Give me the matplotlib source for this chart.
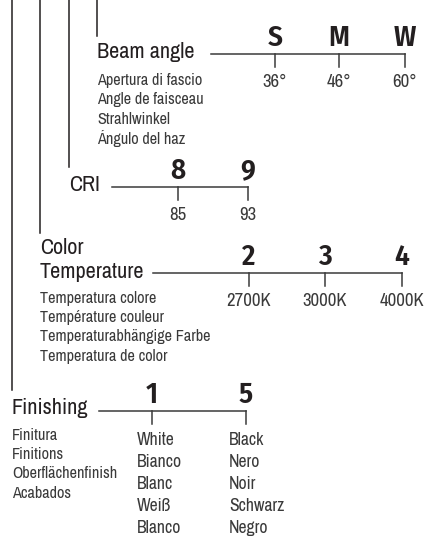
import matplotlib
matplotlib.use("Agg")
import matplotlib.pyplot as plt

plt.rcParams['font.family'] = ['Archivo Narrow', 'DejaVu Sans']
CODE_FONT = ['Fira Sans Condensed', 'DejaVu Sans']

# --- data ---
beam_codes = ["S", "M", "W"]
beam_values = ["36°", "46°", "60°"]
beam_names = ["Apertura di fascio", "Angle de faisceau", "Strahlwinkel", "Ángulo del haz"]

cri_codes = ["8", "9"]
cri_values = ["85", "93"]

cct_codes = ["2", "3", "4"]
cct_values = ["2700K", "3000K", "4000K"]
cct_names = ["Temperatura colore", "Température couleur",
             "Temperaturabhängige Farbe", "Temperatura de color"]

finish_codes = ["1", "5"]
finish_names = ["Finitura", "Finitions", "Oberflächenfinish", "Acabados"]
white_names = ["White", "Bianco", "Blanc", "Weiß", "Blanco"]
black_names = ["Black", "Nero", "Noir", "Schwarz", "Negro"]

TXT = "#231f20"
GREY = "#3a3a3a"

fig = plt.figure(figsize=(4.27, 5.39), dpi=100)
ax = fig.add_axes([0, 0, 1, 1])
ax.set_xlim(0, 427)
ax.set_ylim(539, 0)
ax.axis("off")


def section(ax, y_line, x_start, tick_xs, codes, values, tick_len=13):
    ax.plot([x_start, tick_xs[-1]], [y_line, y_line], color=GREY, lw=1.1)
    for tx, c in zip(tick_xs, codes):
        ax.plot([tx, tx], [y_line, y_line + tick_len], color=GREY, lw=1.1)
        ax.text(tx, y_line - 2, c, ha="center", va="bottom", fontsize=21,
                fontweight="semibold", family=CODE_FONT, color=TXT)
    if values:
        for tx, v in zip(tick_xs, values):
            ax.text(tx, y_line + 28, v, ha="center", va="center", fontsize=13.5, color=GREY)


def title(ax, x, y, s):
    ax.text(x, y, s, ha="left", va="center", fontsize=16, color=TXT)


def sublist(ax, x, y0, items, step=19.5, size=11.7):
    for i, n in enumerate(items):
        ax.text(x, y0 + i * step, n, ha="left", va="center", fontsize=size, color=GREY)


# vertical leader lines
ax.plot([12, 12], [0, 390], color=TXT, lw=1.1)
ax.plot([40, 40], [0, 233], color=TXT, lw=1.1)
ax.plot([69, 69], [0, 167], color=TXT, lw=1.1)
ax.plot([97, 97], [0, 36], color=TXT, lw=1.1)

# Beam angle
title(ax, 97, 52, "Beam angle")
section(ax, 54, 211, [275, 339, 405], beam_codes, beam_values)
sublist(ax, 97, 80, beam_names)

# CRI
title(ax, 69, 185, "CRI")
section(ax, 187, 112, [178, 248], cri_codes, cri_values)

# Color temperature
title(ax, 40, 248, "Color")
title(ax, 40, 272, "Temperature")
section(ax, 273, 153, [249, 325, 402], cct_codes, cct_values)
sublist(ax, 40, 298, cct_names)

# Finishing
title(ax, 12, 408, "Finishing")
section(ax, 411, 99, [152, 246], finish_codes, None)
sublist(ax, 12, 435, finish_names)
sublist(ax, 137, 440, white_names, step=22, size=12.7)
sublist(ax, 229, 440, black_names, step=22, size=12.7)

fig.savefig("out.png", dpi=100)
